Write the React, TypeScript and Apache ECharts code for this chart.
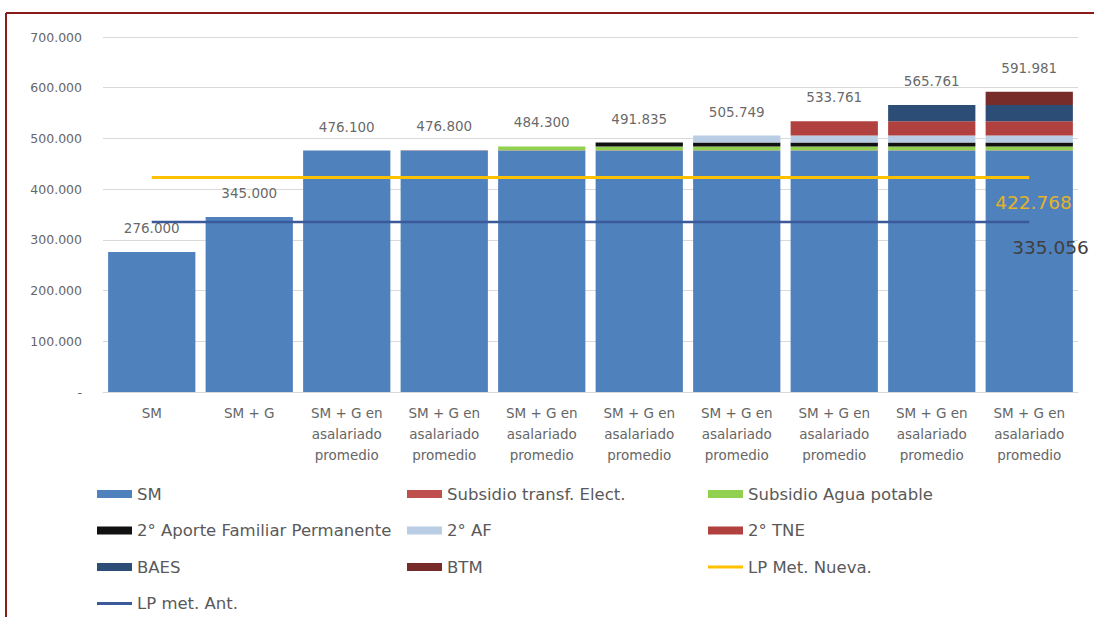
import React, { useEffect, useRef } from "react";
import * as echarts from "echarts";

const categories = [
  "SM",
  "SM + G",
  "SM + G en\nasalariado\npromedio",
  "SM + G en\nasalariado\npromedio",
  "SM + G en\nasalariado\npromedio",
  "SM + G en\nasalariado\npromedio",
  "SM + G en\nasalariado\npromedio",
  "SM + G en\nasalariado\npromedio",
  "SM + G en\nasalariado\npromedio",
  "SM + G en\nasalariado\npromedio",
];

const sm = [276000, 345000, 476100, 476100, 476100, 476100, 476100, 476100, 476100, 476100];
const elect = [0, 0, 0, 700, 700, 700, 700, 700, 700, 700];
const agua = [0, 0, 0, 0, 7500, 7500, 7500, 7500, 7500, 7500];
const aporte = [0, 0, 0, 0, 0, 7535, 7535, 7535, 7535, 7535];
const af = [0, 0, 0, 0, 0, 0, 13914, 13914, 13914, 13914];
const tne = [0, 0, 0, 0, 0, 0, 0, 28012, 28012, 28012];
const baes = [0, 0, 0, 0, 0, 0, 0, 0, 32000, 32000];
const btm = [0, 0, 0, 0, 0, 0, 0, 0, 0, 26220];
const lpNueva = 422768;
const lpAnt = 335056;

const fmt = (v: number) =>
  v === 0 ? "-" : Math.round(v).toString().replace(/\B(?=(\d{3})+(?!\d))/g, ".");

export default function App() {
  const ref = useRef<HTMLDivElement>(null);
  useEffect(() => {
    if (!ref.current) return;
    const chart = echarts.init(ref.current, undefined, { renderer: "svg" });
    const font = "'DejaVu Sans', sans-serif";
    const barDefs = [
      { name: "SM", data: sm, color: "#4F81BD" },
      { name: "Subsidio transf. Elect.", data: elect, color: "#C0504D" },
      { name: "Subsidio Agua potable", data: agua, color: "#92D050" },
      { name: "2° Aporte Familiar Permanente", data: aporte, color: "#111111" },
      { name: "2° AF", data: af, color: "#B9CDE5" },
      { name: "2° TNE", data: tne, color: "#B0413E" },
      { name: "BAES", data: baes, color: "#2C4D75" },
      { name: "BTM", data: btm, color: "#772C2A" },
    ];
    const totals = categories.map((_, i) =>
      barDefs.reduce((s, b) => s + b.data[i], 0)
    );
    const flat = (v: number) => categories.map(() => v);
    const legendText = { color: "#595959", fontSize: 16.5, fontFamily: font, lineHeight: 20 };
    const lineIcon = "path://M0,0 H35 V3 H0 Z";
    const mkLegend = (left: number, names: string[]) => ({
      orient: "vertical",
      left,
      top: 484,
      height: 200,
      padding: 0,
      itemWidth: 35,
      itemHeight: 8,
      itemGap: 16.5,
      textStyle: legendText,
      data: names.map((n) =>
        n.startsWith("LP") ? { name: n, icon: lineIcon } : { name: n, icon: "rect" }
      ),
    });
    chart.setOption({
      animation: false,
      backgroundColor: "#ffffff",
      textStyle: { fontFamily: font },
      graphic: [
        { type: "line", shape: { x1: 6, y1: 13, x2: 1094, y2: 13 }, style: { stroke: "#8B1A1A", lineWidth: 2 } },
        { type: "line", shape: { x1: 6, y1: 13, x2: 6, y2: 617 }, style: { stroke: "#8B1A1A", lineWidth: 2 } },
      ],
      grid: { left: 103, right: 16, top: 37, bottom: 225 },
      legend: [
        mkLegend(97, ["SM", "2° Aporte Familiar Permanente", "BAES", "LP met. Ant."]),
        mkLegend(407, ["Subsidio transf. Elect.", "2° AF", "BTM"]),
        mkLegend(708, ["Subsidio Agua potable", "2° TNE", "LP Met. Nueva."]),
      ],
      xAxis: {
        type: "category",
        data: categories,
        axisTick: { show: false },
        axisLine: { lineStyle: { color: "#D9D9D9" } },
        axisLabel: { color: "#666666", fontSize: 13.5, lineHeight: 21, margin: 10, interval: 0, fontFamily: font },
      },
      yAxis: {
        type: "value",
        min: 0,
        max: 700000,
        interval: 100000,
        axisLabel: { color: "#666666", fontSize: 12.5, margin: 21, formatter: fmt, fontFamily: font },
        splitLine: { lineStyle: { color: "#D9D9D9" } },
      },
      series: [
        ...barDefs.map((b) => ({
          name: b.name,
          type: "bar",
          stack: "total",
          barCategoryGap: "10.5%",
          data: b.data,
          itemStyle: { color: b.color },
        })),
        {
          name: "totals",
          type: "scatter",
          data: totals,
          symbolSize: 0,
          silent: true,
          z: 5,
          label: {
            show: true,
            position: "top",
            distance: 17,
            formatter: (p: any) => fmt(p.value),
            color: "#404040",
            fontSize: 13.5,
            fontFamily: font,
          },
        },
        {
          name: "LP Met. Nueva.",
          type: "line",
          symbol: "none",
          data: flat(lpNueva),
          lineStyle: { color: "#FFC000", width: 3 },
          itemStyle: { color: "#FFC000" },
          z: 4,
          endLabel: {
            show: true,
            formatter: () => fmt(lpNueva),
            color: "#E3B32A",
            fontSize: 18.5,
            fontFamily: font,
            offset: [-42, 25],
          },
        },
        {
          name: "LP met. Ant.",
          type: "line",
          symbol: "none",
          data: flat(lpAnt),
          lineStyle: { color: "#3B5A9A", width: 2.5 },
          itemStyle: { color: "#3B5A9A" },
          z: 4,
          endLabel: {
            show: true,
            formatter: () => fmt(lpAnt),
            color: "#404040",
            fontSize: 18.5,
            fontFamily: font,
            offset: [-25, 25],
          },
        },
      ],
    });
    return () => chart.dispose();
  }, []);
  return (
    <div
      ref={ref}
      style={{ position: "absolute", left: 0, top: 0, width: 1094, height: 617, background: "#fff" }}
    />
  );
}
